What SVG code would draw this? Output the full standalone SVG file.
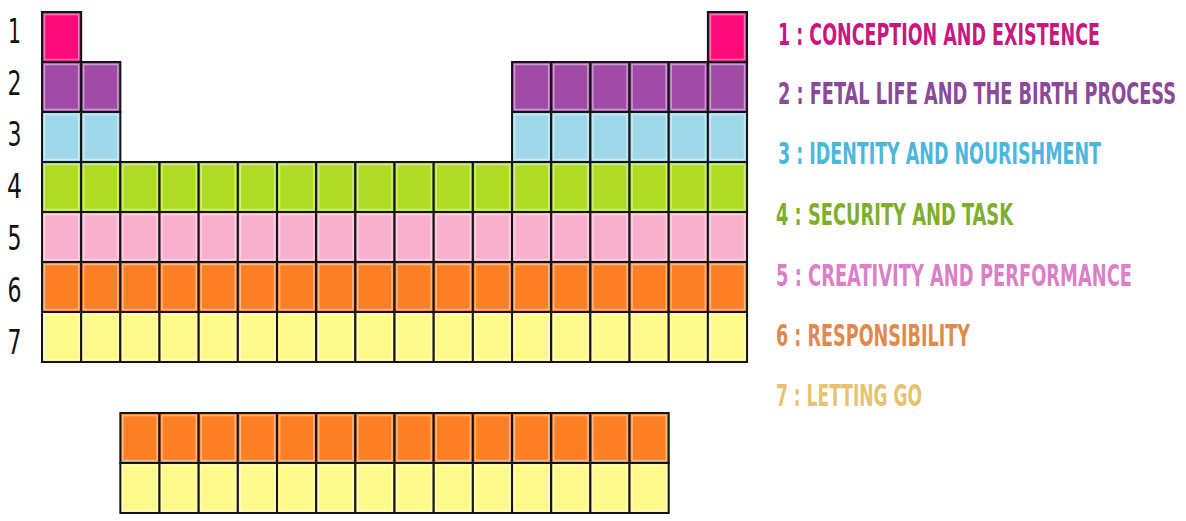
<svg xmlns="http://www.w3.org/2000/svg" xmlns:xlink="http://www.w3.org/1999/xlink" width="1186" height="521" viewBox="0 0 1186 521">
<style>
.num{font-family:"DejaVu Sans Condensed","DejaVu Sans",sans-serif;font-size:34px;fill:#111;text-anchor:middle}
.leg{font-family:"DejaVu Sans Condensed","DejaVu Sans",sans-serif;font-weight:bold;font-size:31px}
.r1{color:#ff0a7a}.r2{color:#a04ba6}.r3{color:#9fd8e8}.r4{color:#aedc22}.r5{color:#f9b0cc}.r6{color:#ff7f24}.r7{color:#fff98a}
</style>
<defs>
<g id="c">
<rect width="39.17" height="50" fill="currentColor" stroke="#141414" stroke-width="2"/>
<rect x="2.5" y="2.5" width="34.17" height="45" fill="none" stroke="#fff" stroke-opacity="0.45" stroke-width="1.5"/>
</g>
</defs>
<rect width="1186" height="521" fill="#fff"/>
<g id="row-labels">
<text class="num" x="14.5" y="43" textLength="13" lengthAdjust="spacingAndGlyphs">1</text>
<text class="num" x="14.5" y="95" textLength="14" lengthAdjust="spacingAndGlyphs">2</text>
<text class="num" x="14.5" y="146" textLength="14" lengthAdjust="spacingAndGlyphs">3</text>
<text class="num" x="14.5" y="198" textLength="15" lengthAdjust="spacingAndGlyphs">4</text>
<text class="num" x="14.5" y="250" textLength="14" lengthAdjust="spacingAndGlyphs">5</text>
<text class="num" x="14.5" y="302" textLength="14" lengthAdjust="spacingAndGlyphs">6</text>
<text class="num" x="14.5" y="354" textLength="14" lengthAdjust="spacingAndGlyphs">7</text>
</g>
<g id="period1" class="r1">
<use xlink:href="#c" x="42" y="12"/>
<use xlink:href="#c" x="707.89" y="12"/>
</g>
<g id="period2" class="r2">
<use xlink:href="#c" x="42" y="62"/><use xlink:href="#c" x="81.17" y="62"/>
<use xlink:href="#c" x="512.04" y="62"/><use xlink:href="#c" x="551.21" y="62"/><use xlink:href="#c" x="590.38" y="62"/><use xlink:href="#c" x="629.55" y="62"/><use xlink:href="#c" x="668.72" y="62"/><use xlink:href="#c" x="707.89" y="62"/>
</g>
<g id="period3" class="r3">
<use xlink:href="#c" x="42" y="112"/><use xlink:href="#c" x="81.17" y="112"/>
<use xlink:href="#c" x="512.04" y="112"/><use xlink:href="#c" x="551.21" y="112"/><use xlink:href="#c" x="590.38" y="112"/><use xlink:href="#c" x="629.55" y="112"/><use xlink:href="#c" x="668.72" y="112"/><use xlink:href="#c" x="707.89" y="112"/>
</g>
<g id="period4" class="r4">
<use xlink:href="#c" x="42" y="162"/><use xlink:href="#c" x="81.17" y="162"/><use xlink:href="#c" x="120.34" y="162"/><use xlink:href="#c" x="159.51" y="162"/><use xlink:href="#c" x="198.68" y="162"/><use xlink:href="#c" x="237.85" y="162"/><use xlink:href="#c" x="277.02" y="162"/><use xlink:href="#c" x="316.19" y="162"/><use xlink:href="#c" x="355.36" y="162"/><use xlink:href="#c" x="394.53" y="162"/><use xlink:href="#c" x="433.7" y="162"/><use xlink:href="#c" x="472.87" y="162"/><use xlink:href="#c" x="512.04" y="162"/><use xlink:href="#c" x="551.21" y="162"/><use xlink:href="#c" x="590.38" y="162"/><use xlink:href="#c" x="629.55" y="162"/><use xlink:href="#c" x="668.72" y="162"/><use xlink:href="#c" x="707.89" y="162"/>
</g>
<g id="period5" class="r5">
<use xlink:href="#c" x="42" y="212"/><use xlink:href="#c" x="81.17" y="212"/><use xlink:href="#c" x="120.34" y="212"/><use xlink:href="#c" x="159.51" y="212"/><use xlink:href="#c" x="198.68" y="212"/><use xlink:href="#c" x="237.85" y="212"/><use xlink:href="#c" x="277.02" y="212"/><use xlink:href="#c" x="316.19" y="212"/><use xlink:href="#c" x="355.36" y="212"/><use xlink:href="#c" x="394.53" y="212"/><use xlink:href="#c" x="433.7" y="212"/><use xlink:href="#c" x="472.87" y="212"/><use xlink:href="#c" x="512.04" y="212"/><use xlink:href="#c" x="551.21" y="212"/><use xlink:href="#c" x="590.38" y="212"/><use xlink:href="#c" x="629.55" y="212"/><use xlink:href="#c" x="668.72" y="212"/><use xlink:href="#c" x="707.89" y="212"/>
</g>
<g id="period6" class="r6">
<use xlink:href="#c" x="42" y="262"/><use xlink:href="#c" x="81.17" y="262"/><use xlink:href="#c" x="120.34" y="262"/><use xlink:href="#c" x="159.51" y="262"/><use xlink:href="#c" x="198.68" y="262"/><use xlink:href="#c" x="237.85" y="262"/><use xlink:href="#c" x="277.02" y="262"/><use xlink:href="#c" x="316.19" y="262"/><use xlink:href="#c" x="355.36" y="262"/><use xlink:href="#c" x="394.53" y="262"/><use xlink:href="#c" x="433.7" y="262"/><use xlink:href="#c" x="472.87" y="262"/><use xlink:href="#c" x="512.04" y="262"/><use xlink:href="#c" x="551.21" y="262"/><use xlink:href="#c" x="590.38" y="262"/><use xlink:href="#c" x="629.55" y="262"/><use xlink:href="#c" x="668.72" y="262"/><use xlink:href="#c" x="707.89" y="262"/>
</g>
<g id="period7" class="r7">
<use xlink:href="#c" x="42" y="312"/><use xlink:href="#c" x="81.17" y="312"/><use xlink:href="#c" x="120.34" y="312"/><use xlink:href="#c" x="159.51" y="312"/><use xlink:href="#c" x="198.68" y="312"/><use xlink:href="#c" x="237.85" y="312"/><use xlink:href="#c" x="277.02" y="312"/><use xlink:href="#c" x="316.19" y="312"/><use xlink:href="#c" x="355.36" y="312"/><use xlink:href="#c" x="394.53" y="312"/><use xlink:href="#c" x="433.7" y="312"/><use xlink:href="#c" x="472.87" y="312"/><use xlink:href="#c" x="512.04" y="312"/><use xlink:href="#c" x="551.21" y="312"/><use xlink:href="#c" x="590.38" y="312"/><use xlink:href="#c" x="629.55" y="312"/><use xlink:href="#c" x="668.72" y="312"/><use xlink:href="#c" x="707.89" y="312"/>
</g>
<g id="series6" class="r6">
<use xlink:href="#c" x="120.34" y="413"/><use xlink:href="#c" x="159.51" y="413"/><use xlink:href="#c" x="198.68" y="413"/><use xlink:href="#c" x="237.85" y="413"/><use xlink:href="#c" x="277.02" y="413"/><use xlink:href="#c" x="316.19" y="413"/><use xlink:href="#c" x="355.36" y="413"/><use xlink:href="#c" x="394.53" y="413"/><use xlink:href="#c" x="433.7" y="413"/><use xlink:href="#c" x="472.87" y="413"/><use xlink:href="#c" x="512.04" y="413"/><use xlink:href="#c" x="551.21" y="413"/><use xlink:href="#c" x="590.38" y="413"/><use xlink:href="#c" x="629.55" y="413"/>
</g>
<g id="series7" class="r7">
<use xlink:href="#c" x="120.34" y="463"/><use xlink:href="#c" x="159.51" y="463"/><use xlink:href="#c" x="198.68" y="463"/><use xlink:href="#c" x="237.85" y="463"/><use xlink:href="#c" x="277.02" y="463"/><use xlink:href="#c" x="316.19" y="463"/><use xlink:href="#c" x="355.36" y="463"/><use xlink:href="#c" x="394.53" y="463"/><use xlink:href="#c" x="433.7" y="463"/><use xlink:href="#c" x="472.87" y="463"/><use xlink:href="#c" x="512.04" y="463"/><use xlink:href="#c" x="551.21" y="463"/><use xlink:href="#c" x="590.38" y="463"/><use xlink:href="#c" x="629.55" y="463"/>
</g>
<g id="connectors"/>
<g id="legend">
<g id="legend1"><text class="leg" x="778" y="45" fill="#c8177f" textLength="322" lengthAdjust="spacingAndGlyphs">1 : CONCEPTION AND EXISTENCE</text></g>
<g id="legend2"><text class="leg" x="778" y="104" fill="#8a4a98" textLength="398" lengthAdjust="spacingAndGlyphs">2 : FETAL LIFE AND THE BIRTH PROCESS</text></g>
<g id="legend3"><text class="leg" x="778" y="164" fill="#4db6dc" textLength="323" lengthAdjust="spacingAndGlyphs">3 : IDENTITY AND NOURISHMENT</text></g>
<g id="legend4"><text class="leg" x="776" y="225" fill="#7fae2c" textLength="237" lengthAdjust="spacingAndGlyphs">4 : SECURITY AND TASK</text></g>
<g id="legend5"><text class="leg" x="776" y="286" fill="#da7fc8" textLength="356" lengthAdjust="spacingAndGlyphs">5 : CREATIVITY AND PERFORMANCE</text></g>
<g id="legend6"><text class="leg" x="776" y="346" fill="#df8a4c" textLength="194" lengthAdjust="spacingAndGlyphs">6 : RESPONSIBILITY</text></g>
<g id="legend7"><text class="leg" x="776" y="406" fill="#e6c271" textLength="146" lengthAdjust="spacingAndGlyphs">7 : LETTING GO</text></g>
</g>
</svg>
